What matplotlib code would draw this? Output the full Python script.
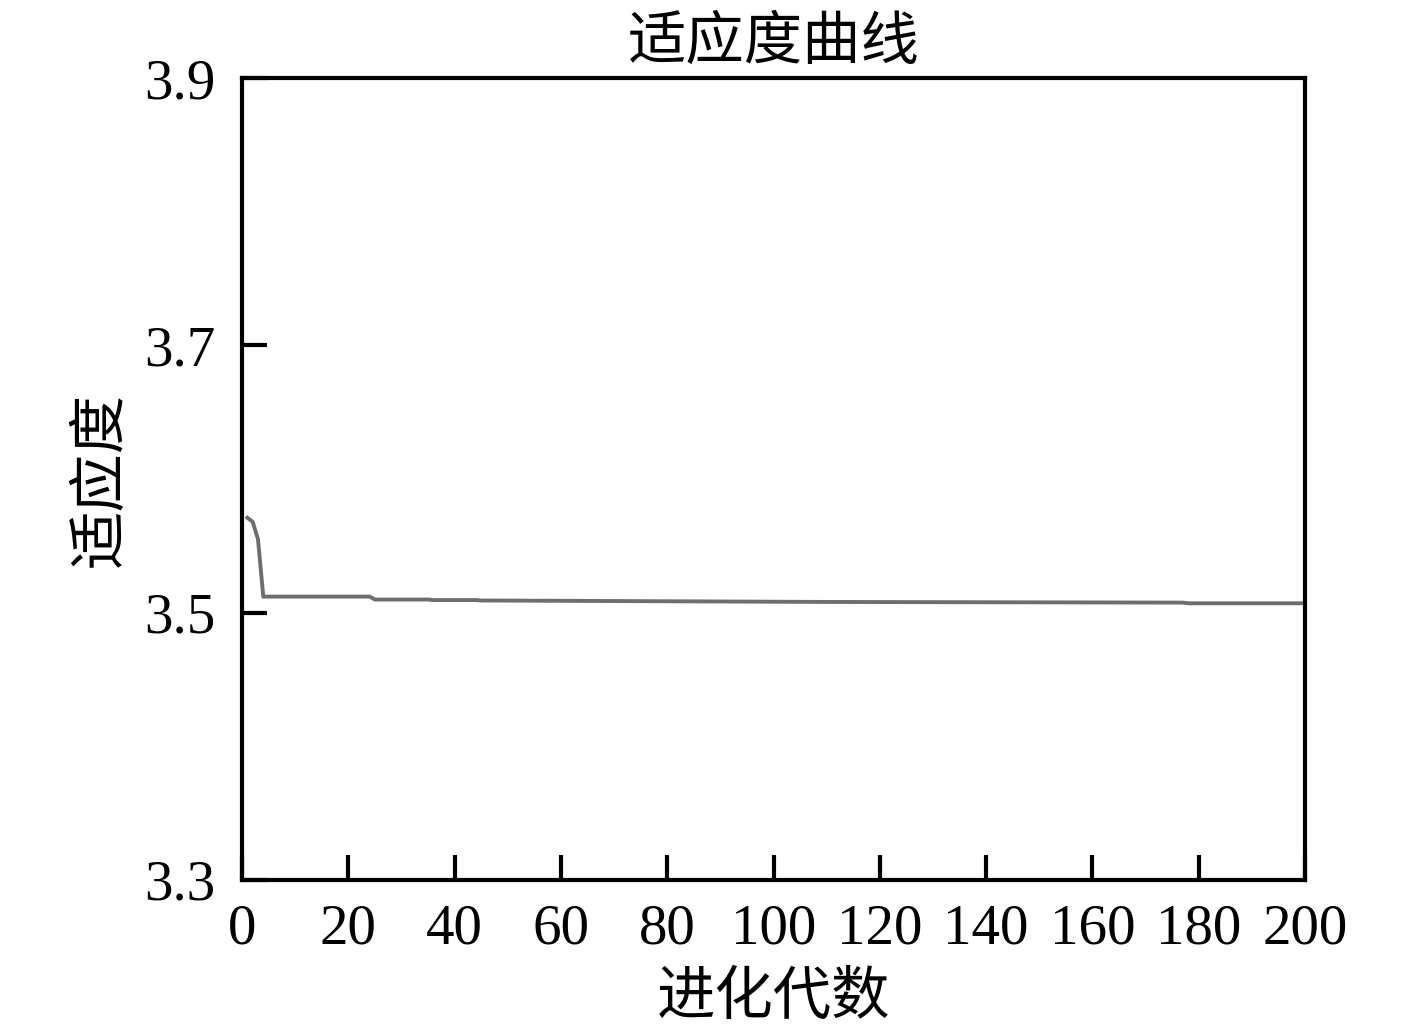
import matplotlib
matplotlib.use('Agg')
import matplotlib.pyplot as plt

# data (generation, best fitness)
gens = [1, 2, 3, 4, 24, 25, 35, 36, 44, 45, 110, 177, 178, 200]
fitness = [3.571, 3.568, 3.555, 3.512, 3.512, 3.5098, 3.5098, 3.5094,
           3.5094, 3.5091, 3.5080, 3.5075, 3.5070, 3.5070]

xticks = list(range(0, 201, 20))
yticks = [3.3, 3.5, 3.7, 3.9]

cjk = ['Noto Sans CJK SC', 'DejaVu Sans']
num_font = 'Liberation Serif'

fig = plt.figure(figsize=(14.17, 10.25), dpi=100)
ax = fig.add_axes([0.1708, 0.1415, 0.921 - 0.1708, 0.9239 - 0.1415])

ax.plot(gens, fitness, color='#6e6e6e', lw=2.8)

ax.set_xlim(0, 200)
ax.set_ylim(3.3, 3.9)
ax.set_xticks(xticks)
ax.set_yticks(yticks)
ax.set_xticklabels([str(v) for v in xticks], fontfamily=num_font, fontsize=41)
ax.set_yticklabels(['{:.1f}'.format(v) for v in yticks], fontfamily=num_font, fontsize=41)
ax.tick_params(direction='in', length=18, width=3)
ax.tick_params(axis='x', pad=17)
ax.tick_params(axis='y', pad=19)
for s in ax.spines.values():
    s.set_linewidth(3)

ax.set_title('适应度曲线', family=cjk, fontsize=42, pad=14)
ax.set_xlabel('进化代数', family=cjk, fontsize=42, labelpad=8)
ax.set_ylabel('适应度', family=cjk, fontsize=42, labelpad=10)

fig.savefig('out.png', dpi=100)
